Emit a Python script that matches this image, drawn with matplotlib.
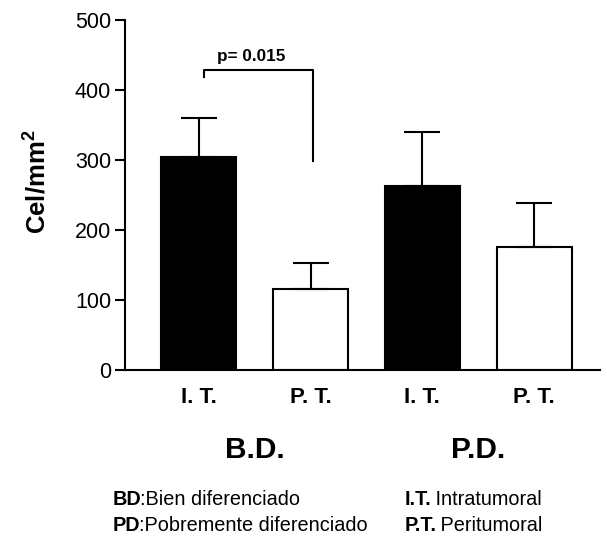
import numpy as np
import matplotlib
matplotlib.use('Agg')
from matplotlib import pyplot as plt

plt.rcParams['font.family'] = ['Liberation Sans', 'DejaVu Sans']
plt.rcParams['mathtext.fontset'] = 'custom'
plt.rcParams['mathtext.rm'] = 'Liberation Sans'
plt.rcParams['mathtext.bf'] = 'Liberation Sans:bold'

# datos
categorias = ['I. T.', 'P. T.', 'I. T.', 'P. T.']
grupos = ['B.D.', 'P.D.']
medias = [304, 116, 263, 176]
error_sup = [56, 37, 77, 62]
colores = ['black', 'white', 'black', 'white']
p_valor = 'p= 0.015'
leyenda = [('BD', ':Bien diferenciado'), ('PD', ':Pobremente diferenciado'),
           ('I.T.', ' Intratumoral'), ('P.T.', ' Peritumoral')]

W, H = 607, 538
fig = plt.figure(figsize=(W/100, H/100), dpi=100)
ax = fig.add_axes([125/W, 1-370/H, 475/W, 350/H])

x = np.arange(len(medias))
ax.bar(x, medias, width=0.67, color=colores, edgecolor='black', linewidth=1.5,
       yerr=[np.zeros(len(medias)), error_sup], capsize=13,
       error_kw=dict(elinewidth=1.5, capthick=1.5, ecolor='black'), zorder=2)

ax.set_xlim(-0.66, 3.59)
ax.set_ylim(0, 500)
ax.set_yticks([0, 100, 200, 300, 400, 500])
ax.set_xticks(x)
ax.set_xticklabels(categorias, fontweight='bold', fontsize=16)
ax.tick_params(axis='y', length=7, width=1.5, labelsize=15.5, pad=3)
ax.tick_params(axis='x', length=0, pad=12)
ax.spines['top'].set_visible(False)
ax.spines['right'].set_visible(False)
ax.spines['left'].set_linewidth(1.5)
ax.spines['bottom'].set_linewidth(1.5)
ax.set_ylabel('Cel/mm$^\\mathbf{2}$', fontsize=18.5, fontweight='bold')
ax.yaxis.set_label_coords((50-125)/475, (370-182)/350)

# barra de significancia
ax.plot([0.05, 0.05, 1.02, 1.02], [419, 429, 429, 299], color='black', lw=1.5)
ax.text(0.47, 437, p_valor, ha='center', va='bottom', fontsize=12.3, fontweight='bold')

# nombres de grupo
for i, g in enumerate(grupos):
    ax.text(2*i + 0.5, -(458-370)/350, g, transform=ax.get_xaxis_transform(),
            ha='center', va='baseline', fontsize=21.5, fontweight='bold')

# leyenda (parte en negrita + resto normal)
r = fig.canvas.get_renderer()
pos = [(113, 505), (113, 531), (405, 505), (405, 531)]
for (b, t), (px, py) in zip(leyenda, pos):
    tb = fig.text(px/W, 1-py/H, b, fontsize=14.3, fontweight='bold', va='baseline')
    bb = tb.get_window_extent(renderer=r)
    fig.text((bb.x1 - 2)/W, 1-py/H, t, fontsize=14.3, va='baseline')

plt.savefig('out.png', dpi=100)
